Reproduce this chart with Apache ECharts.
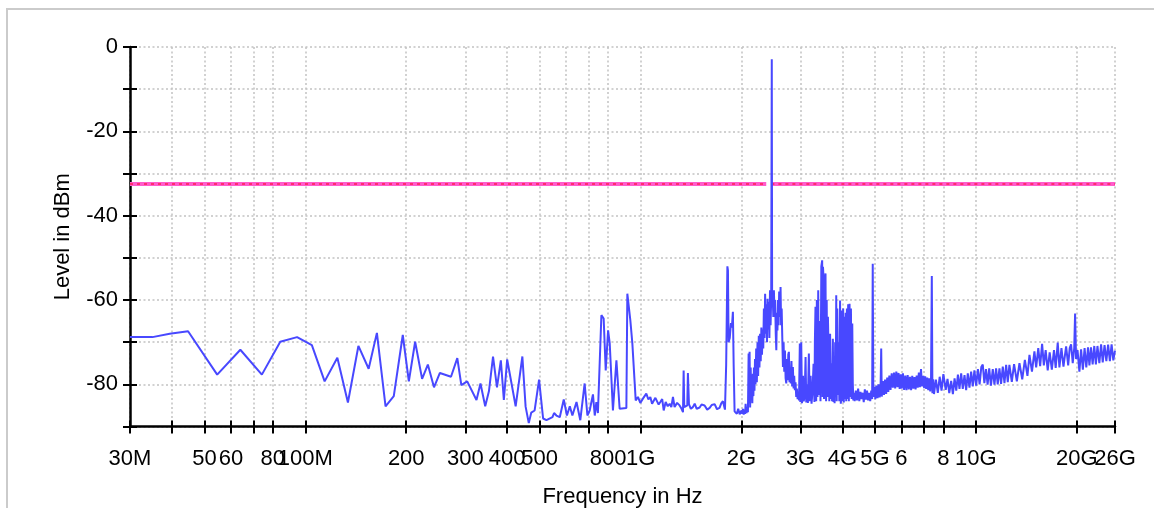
<!DOCTYPE html>
<html>
<head>
<meta charset="utf-8">
<script src="https://cdn.jsdelivr.net/npm/echarts@6/dist/echarts.min.js"></script>
<style>
  html, body { margin: 0; padding: 0; background: #fff; }
  #chart { width: 1154px; height: 508px; }
</style>
</head>
<body>
<div id="chart"></div>
<script>
// ---- data (frequency in MHz, level in dBm) ----
const traceLow = [
  [30,-68.8],[35,-68.8],[39.4,-68.0],[44.7,-67.4],[54.6,-77.7],[64,-71.8],[74.2,-77.7],[84.2,-69.9],
  [94.5,-68.8],[104.6,-70.7],[114.2,-79.3],[124.6,-73.7],[134,-84.3],[144,-70.9],[154.5,-76.3],
  [163.5,-67.8],[173.5,-85.2],[183.6,-82.8],[195.3,-68.3],[203.6,-79.3],[212.6,-69.9],[223,-78.7],
  [232,-75.3],[242,-80.7],[252,-77.3],[272,-78.2],[284,-73.8],[292,-80.2],[304,-79.3],[324,-83.7],
  [333,-79.8],[344,-85.2],[353,-81.6],[363,-73.4],[373,-80.7],[383,-74.3],[391,-83.7],[400,-74.1],
  [424,-85.2],[444,-73.4],[454,-85.3],[464,-89.2],[472,-86.7],[483,-86.2],[498,-78.9],[512,-88.1],
  [524,-88.5],[546,-87.8],[552,-86.8],[561,-87.4],[574,-87.8],[590,-83.6],[598,-83.8],[603,-87.4],
  [615,-85.2],[626,-87.4],[644,-84.2],[661,-88.5],[681,-79.8],[694,-87.4],[705,-86.2],[721,-82.4],
  [730,-87.4],[738,-84.2],[746,-86.8],[755,-86.6],[764,-63.6],[776,-64.4],[787,-76.7],[800,-67.2],
  [809,-70.3],[827,-86.2],[847,-74.3],[866,-85.8],[907,-85.6],[913,-58.5],[932,-64.8],[945,-70.3],
  [954,-70.5],[967,-83.8],[982,-83.0]
];
const traceMid = [
  [998,-84.4],[1016,-83.4],[1040,-82.2],[1055,-83.6],[1069,-83.0],[1082,-84.6],[1094,-84.4],[1107,-83.2],
  [1119,-83.4],[1132,-84.8],[1145,-84.2],[1160,-83.5],[1172,-86.2],[1188,-84.2],[1205,-85.2],[1221,-84.6],
  [1235,-85.4],[1249,-83.0],[1263,-85.4],[1285,-84.4],[1307,-85.0],[1325,-85.8],[1338,-86.6],[1344,-76.7],
  [1350,-85.4],[1365,-85.8],[1378,-85.0],[1384,-77.3],[1394,-84.7],[1412,-85.8],[1432,-85.4],[1450,-84.6],
  [1470,-85.8],[1500,-85.5],[1520,-84.8],[1552,-85.0],[1580,-86.0],[1607,-85.6],[1630,-84.9],[1663,-84.7],
  [1690,-85.9],[1720,-85.6],[1740,-84.5],[1760,-84.0],[1785,-86.0],[1800,-75.3],[1815,-52.0],[1822,-53.0],
  [1830,-70.0],[1845,-69.0],[1860,-65.5],[1872,-66.5],[1885,-62.8],[1895,-75.5],[1907,-86.4],[1925,-86.0],
  [1937,-87.0],[1955,-85.8],[1975,-87.1],[2000,-86.2],[2010,-87.0],[2020,-85.8],[2030,-87.2],[2040,-86.0],
  [2050,-87.0],[2057,-84.6],[2070,-86.8],[2080,-85.5],[2090,-86.6],[2100,-72.7],[2106,-84.5],[2114,-72.3],
  [2122,-85.5],[2130,-76],[2138,-83],[2146,-79],[2154,-84.5],[2162,-77.5],[2170,-82.8],[2178,-76],
  [2186,-81.5],[2194,-74],[2202,-80],[2212,-71.5],[2222,-79.5],[2232,-70],[2242,-78],[2252,-68.5],
  [2262,-76],[2272,-68],[2282,-74.5],[2292,-66.5],[2302,-73],[2312,-67],[2322,-71.5],[2332,-62],
  [2342,-69],[2352,-58.5],[2362,-68],[2372,-61],[2382,-70],[2392,-59.7],[2402,-67],[2412,-60.5],
  [2422,-69],[2432,-57.7],[2442,-66],[2452,-59.5],[2462,-2.9],[2468,-60.5],[2478,-59],[2488,-64],
  [2498,-57.7],[2510,-64],[2520,-60],[2530,-68],[2540,-71.9],[2550,-63],[2560,-67.2],[2570,-60],
  [2580,-66],[2590,-58],[2600,-64],[2615,-56.9],[2625,-66],[2635,-62],[2646,-68.8],[2658,-75.9],
  [2670,-70],[2682,-77],[2695,-72],[2707,-78.5],[2720,-79.8],[2732,-74],[2745,-79],[2757,-73],
  [2769,-72.3],[2781,-79.5],[2792,-76],[2805,-79.8],[2818,-74.5],[2832,-80.5],[2846,-75.9],[2860,-81],
  [2872,-78],[2885,-81.4],[2898,-79.5],[2912,-83],[2925,-81],[2940,-83.5],[2955,-82],[2968,-83.8]
];
const traceSpurs = [
  [2985,-70.3],[2995,-84.2],[3014,-70.0],[3030,-84.5],[3050,-78],[3065,-84],[3085,-83],[3105,-73.5],
  [3120,-84.3],[3140,-80],[3155,-84.4],[3176,-72.7],[3195,-84.0],[3215,-78],[3235,-84.6],[3255,-82],
  [3280,-75.1],[3300,-84.2],[3310,-70],[3324,-61.6],[3340,-84],[3355,-60],[3370,-83],[3387,-57.7],
  [3400,-82.5],[3420,-65],[3440,-84],[3460,-52],[3480,-50.6],[3490,-83],[3500,-52.1],[3513,-55],
  [3525,-83.5],[3540,-56],[3561,-53.7],[3575,-84],[3590,-60],[3605,-83],[3620,-64],[3640,-73.5],
  [3655,-84],[3675,-68],[3690,-83.5],[3710,-75],[3725,-84],[3745,-69.2],[3760,-84.2],[3775,-78],
  [3790,-84.5],[3805,-70],[3820,-83],[3833,-58.9],[3845,-84],[3860,-62],[3880,-82.5],[3900,-70],
  [3915,-84],[3935,-60.1],[3955,-84.6],[3975,-82],[3990,-62.5],[4005,-84],[4020,-62],[4038,-84.3],
  [4055,-64],[4070,-83.5],[4090,-63],[4105,-84],[4124,-62],[4140,-83.5],[4160,-61],[4180,-84],
  [4200,-60.9],[4220,-83],[4240,-62],[4260,-83.5],[4279,-65.6],[4295,-79.8],[4310,-83.8],[4330,-82],
  [4350,-84],[4385,-81.5],[4420,-83.8],[4455,-81],[4490,-84],[4525,-81.8],[4560,-83.5],[4595,-82],
  [4630,-84.2],[4665,-81.2],[4700,-83.6],[4735,-81.5],[4770,-83.8],[4805,-82],[4840,-84],[4875,-81.5],
  [4905,-83.5],[4925,-51.4],[4945,-83]
];
const traceUpper = [
  [4980,-80.6],[5015,-83.5],[5050,-80.3],[5090,-83.3],[5125,-80.0],[5165,-83.1],[5200,-79.7],[5220,-71.5],
  [5240,-82.9],[5280,-79.2],[5320,-82.5],[5360,-78.9],[5400,-82.3],[5440,-78.4],[5480,-81.8],[5520,-77.9],
  [5565,-81.3],[5610,-77.4],[5655,-80.8],[5700,-77.2],[5745,-81.0],[5790,-77.0],[5835,-80.7],[5880,-77.3],
  [5925,-81.1],[5970,-77.6],[6015,-81.0],[6060,-77.4],[6110,-81.3],[6160,-77.9],[6210,-81.4],[6260,-77.8],
  [6310,-81.2],[6360,-78.2],[6410,-81.4],[6460,-78.0],[6510,-81.0],[6560,-78.3],[6610,-81.2],[6660,-77.9],
  [6710,-80.8],[6760,-77.2],[6810,-80.7],[6860,-76.4],[6910,-80.5],[6960,-78.0],[7010,-80.9],[7060,-78.1],
  [7110,-81.1],[7160,-78.4],[7210,-81.4],[7260,-78.6],[7310,-81.7],[7350,-78.9],[7389,-54.3],[7420,-82.1],
  [7460,-78.8],[7500,-82.3],[7600,-78.9],[7700,-82.0],[7800,-78.2],[7900,-81.5],[8000,-77.6],[8060,-77.4],
  [8130,-81.3],[8230,-78.7],[8330,-82.1],[8440,-79.2],[8540,-82.3],[8640,-78.6],[8740,-81.5],[8840,-77.7],
  [8935,-81.1],[9040,-77.4],[9140,-81.1],[9250,-77.8],[9354,-81.4],[9460,-77.4],[9570,-80.8],[9680,-77.0],
  [9790,-80.5],[9900,-76.7],[10020,-80.3],[10140,-76.4],[10260,-80.0],[10380,-75.9],[10486,-75.3],[10600,-79.7],
  [10720,-76.4],[10840,-80.1],[10960,-76.2],[11090,-80.3],[11232,-76.4],[11360,-80.1],[11490,-76.2],[11620,-80.0],
  [11757,-76.2],[11890,-79.9],[12030,-75.8],[12170,-79.7],[12310,-75.4],[12450,-79.5],[12590,-75.4],[12800,-79.4],
  [13000,-75.2],[13250,-79.3],[13490,-75.0],[13750,-78.8],[14000,-74.2],[14250,-78.0],[14450,-73.0],[14700,-77.0],
  [14950,-72.2],[15130,-76.0],[15350,-71.4],[15550,-75.7],[15760,-70.4],[15950,-75.5],[16150,-71.9],[16380,-76.7],
  [16600,-72.4],[16850,-76.5],[17100,-71.9],[17300,-76.1],[17545,-70.1],[17750,-76.0],[18000,-71.4],[18250,-75.8],
  [18585,-71.0],[18850,-75.5],[19050,-71.4],[19233,-70.5],[19450,-75.0],[19650,-71.4],[19767,-63.2],[19900,-74.0],
  [20100,-71.9],[20362,-77.0],[20600,-71.7],[20850,-76.5],[21100,-71.4],[21350,-76.0],[21600,-71.2],[21810,-75.5],
  [22050,-71.2],[22300,-75.3],[22550,-70.9],[22800,-75.3],[23050,-70.9],[23350,-75.0],[23631,-70.5],[23900,-74.8],
  [24200,-70.7],[24500,-74.5],[24800,-70.6],[25100,-74.5],[25400,-70.5],[25700,-74.3],[26000,-72.0]
];
const limitLevel = -32.5;
const limitSegmentsMHz = [[30, 2370], [2455, 26000]];

const xTickMHz = [30,40,50,60,70,80,100,200,300,400,500,600,700,800,1000,2000,3000,4000,5000,6000,7000,8000,10000,20000,26000];
const xLabelMHz = [30,50,60,80,100,200,300,400,500,800,1000,2000,3000,4000,5000,6000,8000,10000,20000,26000];
const xLabelText = ['30M','50','60','80','100M','200','300','400','500','800','1G','2G','3G','4G','5G','6','8','10G','20G','26G'];
const yMin = -90, yMax = 0, yStep = 10;

// ---- chart ----
const lg = Math.log10;
const xMin = lg(30), xMax = lg(26000);
const FONT = 'Liberation Sans, Arial, sans-serif';
const trace = traceLow.concat(traceMid, traceSpurs, traceUpper).map(p => [lg(p[0]), p[1]]);

const chart = echarts.init(document.getElementById('chart'), null, { renderer: 'canvas' });

const limitSeries = [];
limitSegmentsMHz.forEach(seg => {
  const d = [[lg(seg[0]), limitLevel], [lg(seg[1]), limitLevel]];
  limitSeries.push({ type: 'line', data: d, showSymbol: false, silent: true, z: 3,
    lineStyle: { color: '#ff5ccc', width: 4 } });
  limitSeries.push({ type: 'line', data: d, showSymbol: false, silent: true, z: 4,
    lineStyle: { color: '#ff2d6e', width: 2, type: [3, 4] } });
});

const tickVals = xTickMHz.map(lg);
const xLabelFmt = v => {
  const i = xLabelMHz.indexOf(Math.round(Math.pow(10, v)));
  return i >= 0 ? xLabelText[i] : '';
};
// labels split across the two overlaid axes so the last two (overlapping) both show
const labelsA = xLabelMHz.filter((m, i) => i !== xLabelMHz.length - 1).map(lg);
const labelsB = [lg(xLabelMHz[xLabelMHz.length - 1])];
const labelStyle = { fontFamily: FONT, fontSize: 22, color: '#000', margin: 21,
  showMinLabel: true, showMaxLabel: true, hideOverlap: false, formatter: xLabelFmt };
const gridBox = { left: 130, right: 39, top: 47, bottom: 81.5, containLabel: false, outerBoundsMode: 'none' };
const gridStyle = { color: '#c2c2c2', width: 1.5, type: [2, 2.5] };

chart.setOption({
  animation: false,
  backgroundColor: '#fff',
  graphic: [{
    type: 'rect', silent: true, z: -10,
    shape: { x: 7, y: 9, width: 1200, height: 600 },
    style: { fill: 'none', stroke: '#cbcbcb', lineWidth: 2 }
  }],
  grid: [Object.assign({}, gridBox), Object.assign({}, gridBox)],
  xAxis: [{
    gridIndex: 0, type: 'value', min: xMin, max: xMax, position: 'bottom',
    name: 'Frequency in Hz', nameLocation: 'middle', nameGap: 59,
    nameTextStyle: { fontFamily: FONT, fontSize: 22, color: '#000' },
    axisLine: { show: true, onZero: false, lineStyle: { color: '#000', width: 2.5 } },
    axisTick: { show: true, inside: false, length: 7, customValues: tickVals, lineStyle: { color: '#000', width: 2 } },
    axisLabel: Object.assign({ show: true, customValues: labelsA }, labelStyle),
    splitLine: { show: true, lineStyle: gridStyle }
  }, {
    gridIndex: 1, type: 'value', min: xMin, max: xMax, position: 'bottom',
    axisLine: { show: false, onZero: false },
    axisTick: { show: true, inside: true, length: 6, customValues: tickVals, lineStyle: { color: '#000', width: 2 } },
    axisLabel: Object.assign({ show: true, customValues: labelsB }, labelStyle),
    splitLine: { show: false }
  }],
  yAxis: [{
    gridIndex: 0, type: 'value', min: yMin, max: yMax, interval: yStep, position: 'left',
    name: 'Level in dBm', nameLocation: 'middle', nameGap: 56,
    nameTextStyle: { fontFamily: FONT, fontSize: 22, color: '#000' },
    axisLine: { show: true, onZero: false, lineStyle: { color: '#000', width: 2.5 } },
    axisTick: { show: true, inside: false, length: 7, lineStyle: { color: '#000', width: 2 } },
    axisLabel: { show: true, margin: 12, fontFamily: FONT, fontSize: 22, color: '#000',
      formatter: v => (v % 20 === 0 ? String(v) : '') },
    splitLine: { show: true, lineStyle: gridStyle }
  }, {
    gridIndex: 1, type: 'value', min: yMin, max: yMax, interval: yStep, position: 'left',
    axisLine: { show: false, onZero: false },
    axisTick: { show: true, inside: true, length: 7, lineStyle: { color: '#000', width: 2 } },
    axisLabel: { show: false },
    splitLine: { show: false }
  }],
  series: limitSeries.concat([{
    type: 'line', data: trace, showSymbol: false, silent: true, z: 5,
    lineStyle: { color: '#4848ff', width: 2 }
  }]).map(s => Object.assign(s, { xAxisIndex: 0, yAxisIndex: 0 }))
});
</script>
</body>
</html>
